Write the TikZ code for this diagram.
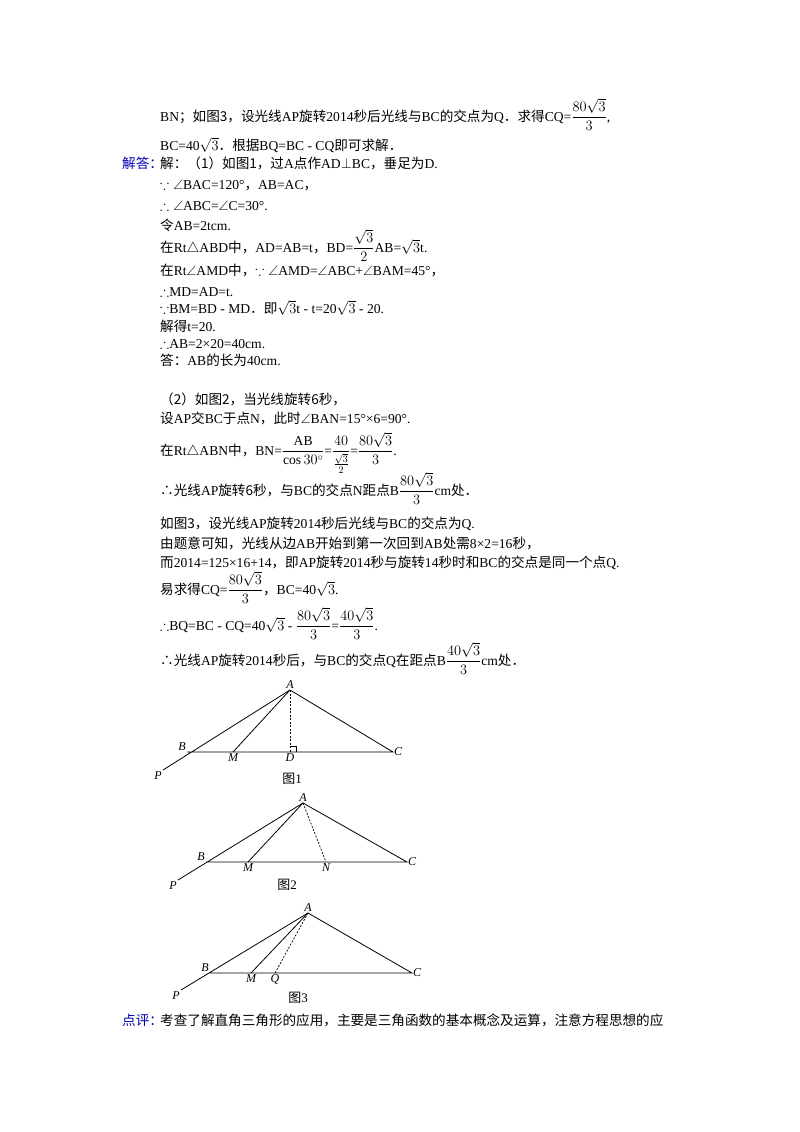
\documentclass[tikz,border=0pt]{standalone}
\usepackage{amsmath,amssymb}
\usepackage{fontspec}
\setmainfont{Liberation Serif}
\newfontfamily\cjk{Noto Sans CJK SC}
\begin{document}
\begin{tikzpicture}[x=1pt,y=-1pt,
  t/.style={anchor=base west,inner sep=0pt,font=\fontsize{13.6}{15}\selectfont},
  lab/.style={font=\fontsize{12}{13}\itshape\selectfont,inner sep=1pt},
  figcap/.style={font=\fontsize{13}{14}\selectfont,inner sep=0pt},
  ln/.style={line width=0.8pt},
  dsh/.style={line width=0.7pt,dashed,dash pattern=on 2pt off 1.5pt}]
\useasboundingbox (0,0) rectangle (800,1132);
\newcommand{\C}[1]{{\cjk #1}}
\node[t] (l1) at (160,121) {BN\C{；如图3，设光线}AP\C{旋转}2014\C{秒后光线与}BC\C{的交点为}Q\C{．求得}CQ=$\dfrac{80\sqrt3}{3}$,};
\node[t] (l2) at (160,150) {BC=40$\sqrt3$\C{．根据}BQ=BC - CQ\C{即可求解．}};
\node[t,text=blue!70!black] (h1) at (122,168) {\C{解答：}};
\node[t] (l3) at (160,168) {\C{解：（1）如图1，过}A\C{点作}AD$\perp$BC\C{，垂足为}D.};
\node[t] (l4) at (160,189) {$\because\angle$BAC=120°\C{，}AB=AC\C{，}};
\node[t] (l5) at (160,210) {$\therefore\angle$ABC=$\angle$C=30°.};
\node[t] (l6) at (160,230) {\C{令}AB=2tcm.};
\node[t] (l7) at (160,252) {\C{在}Rt$\triangle$ABD\C{中，}AD=AB=t\C{，}BD=$\dfrac{\sqrt3}{2}$AB=$\sqrt3$t.};
\node[t] (l8) at (160,275) {\C{在}Rt$\angle$AMD\C{中，}$\because\angle$AMD=$\angle$ABC+$\angle$BAM=45°\C{，}};
\node[t] (l9) at (160,296) {$\therefore$MD=AD=t.};
\node[t] (l10) at (160,313) {$\because$BM=BD - MD\C{．即}$\sqrt3$t - t=20$\sqrt3$ - 20.};
\node[t] (l11) at (160,331) {\C{解得}t=20.};
\node[t] (l12) at (160,348) {$\therefore$AB=2×20=40cm.};
\node[t] (l13) at (160,365) {\C{答：}AB\C{的长为}40cm.};
\node[t] (l14) at (160,404) {\C{（2）如图2，当光线旋转6秒，}};
\node[t] (l15) at (160,423) {\C{设}AP\C{交}BC\C{于点}N\C{，此时}$\angle$BAN=15°×6=90°.};
\node[t] (l16) at (160,455) {\C{在}Rt$\triangle$ABN\C{中，}BN=$\dfrac{\text{AB}}{\cos30^\circ}$=$\dfrac{40}{\frac{\sqrt3}{2}}$=$\dfrac{80\sqrt3}{3}$.};
\node[t] (l17) at (160,495) {\C{∴光线}AP\C{旋转6秒，与}BC\C{的交点}N\C{距点}B$\dfrac{80\sqrt3}{3}$cm\C{处．}};
\node[t] (l18) at (160,528) {\C{如图3，设光线}AP\C{旋转}2014\C{秒后光线与}BC\C{的交点为}Q.};
\node[t] (l19) at (160,548) {\C{由题意可知，光线从边}AB\C{开始到第一次回到}AB\C{处需}8×2=16\C{秒，}};
\node[t] (l20) at (160,567) {\C{而}2014=125×16+14\C{，即}AP\C{旋转}2014\C{秒与旋转}14\C{秒时和}BC\C{的交点是同一个点}Q.};
\node[t] (l21) at (160,594) {\C{易求得}CQ=$\dfrac{80\sqrt3}{3}$\C{，}BC=40$\sqrt3$.};
\node[t] (l22) at (160,630) {$\therefore$BQ=BC - CQ=40$\sqrt3$ - $\dfrac{80\sqrt3}{3}$=$\dfrac{40\sqrt3}{3}$.};
\node[t] (l23) at (160,665) {\C{∴光线}AP\C{旋转}2014\C{秒后，与}BC\C{的交点}Q\C{在距点}B$\dfrac{40\sqrt3}{3}$cm\C{处．}};
\node[t,text=blue!70!black] (h2) at (122,1025) {\C{点评：}};
\node[t] (l24) at (160,1025) {\C{考查了解直角三角形的应用，主要是三角函数的基本概念及运算，注意方程思想的应}};
% Figure 1
\coordinate (A1) at (290,690); \coordinate (B1) at (187,752); \coordinate (C1) at (393,752);
\coordinate (M1) at (233,752); \coordinate (D1) at (290,752); \coordinate (P1) at (163,770);
\draw[ln] (P1) -- (A1) -- (C1) -- (B1); \draw[ln] (M1) -- (A1);
\draw[dsh] (A1) -- (D1);
\draw[line width=0.6pt] (290,746) -- (296,746) -- (296,752);
\node[lab,above] (tA1) at (A1) {A}; \node[lab,above left] (tB1) at (B1) {B};
\node[lab,right] (tC1) at (C1) {C}; \node[lab,below] (tM1) at (M1) {M};
\node[lab,below] (tD1) at (D1) {D}; \node[lab,below left] (tP1) at (P1) {P};
\node[figcap] (f1) at (292,779) {\C{图}1};
% Figure 2
\coordinate (A2) at (303,803); \coordinate (B2) at (206,862); \coordinate (C2) at (407,862);
\coordinate (M2) at (248,862); \coordinate (N2) at (326,862); \coordinate (P2) at (178,880);
\draw[ln] (P2) -- (A2) -- (C2) -- (B2); \draw[ln] (M2) -- (A2);
\draw[dsh] (A2) -- (N2);
\node[lab,above] (tA2) at (A2) {A}; \node[lab,above left] (tB2) at (B2) {B};
\node[lab,right] (tC2) at (C2) {C}; \node[lab,below] (tM2) at (M2) {M};
\node[lab,below] (tN2) at (N2) {N}; \node[lab,below left] (tP2) at (P2) {P};
\node[figcap] (f2) at (287,885) {\C{图}2};
% Figure 3
\coordinate (A3) at (308,913); \coordinate (B3) at (210,973); \coordinate (C3) at (412,973);
\coordinate (M3) at (251,973); \coordinate (Q3) at (275,973); \coordinate (P3) at (181,990);
\draw[ln] (P3) -- (A3) -- (C3) -- (B3); \draw[ln] (M3) -- (A3);
\draw[dsh] (A3) -- (Q3);
\node[lab,above] (tA3) at (A3) {A}; \node[lab,above left] (tB3) at (B3) {B};
\node[lab,right] (tC3) at (C3) {C}; \node[lab,below] (tM3) at (M3) {M};
\node[lab,below] (tQ3) at (Q3) {Q}; \node[lab,below left] (tP3) at (P3) {P};
\node[figcap] (f3) at (298,998) {\C{图}3};
\end{tikzpicture}
\end{document}
